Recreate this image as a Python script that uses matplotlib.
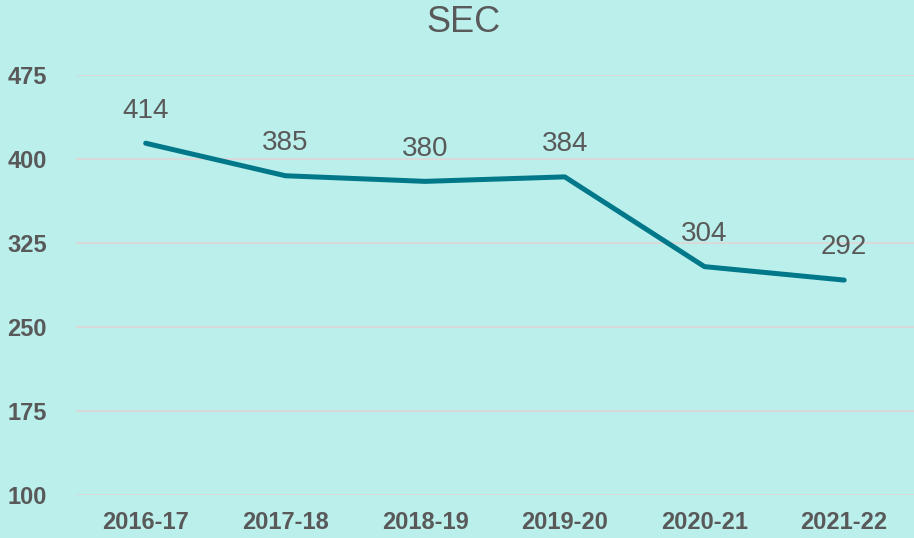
import matplotlib.pyplot as plt

years = ["2016-17", "2017-18", "2018-19", "2019-20", "2020-21", "2021-22"]
sec = [414, 385, 380, 384, 304, 292]
yticks = [100, 175, 250, 325, 400, 475]

bg = "#BAEFEB"
line_col = "#00788A"
txt = "#595959"

plt.rcParams['font.family'] = ['Liberation Sans', 'DejaVu Sans']

fig = plt.figure(figsize=(9.14, 5.38), dpi=100, facecolor=bg)
ax = fig.add_axes([0.083, 0.079, 0.917, 0.782])
ax.set_facecolor(bg)

x = list(range(len(years)))
ax.plot(x, sec, color=line_col, linewidth=3.6, solid_capstyle="round", zorder=3)

# etiquetas de datos
for xi, v in zip(x, sec):
    ax.annotate(str(v), (xi, v), xytext=(0, 23.5), textcoords="offset points",
                ha="center", va="center", fontsize=20, color=txt)

ax.set_xlim(-0.5, len(years) - 0.5)
ax.set_ylim(100, 475)
ax.set_yticks(yticks)
ax.set_xticks(x)
ax.set_xticklabels(years)
ax.yaxis.grid(True, color="#D9D9D9", linewidth=1.5)
ax.set_axisbelow(True)
for s in ax.spines.values():
    s.set_visible(False)
ax.tick_params(length=0, labelsize=17, labelcolor=txt)
ax.tick_params(axis="y", pad=21)
ax.tick_params(axis="x", pad=11)
for lab in ax.get_xticklabels() + ax.get_yticklabels():
    lab.set_fontweight("bold")

fig.text(0.507, 0.958, "SEC", ha="center", va="center", fontsize=26, color=txt)

fig.savefig("out.png", dpi=100, facecolor=bg)
